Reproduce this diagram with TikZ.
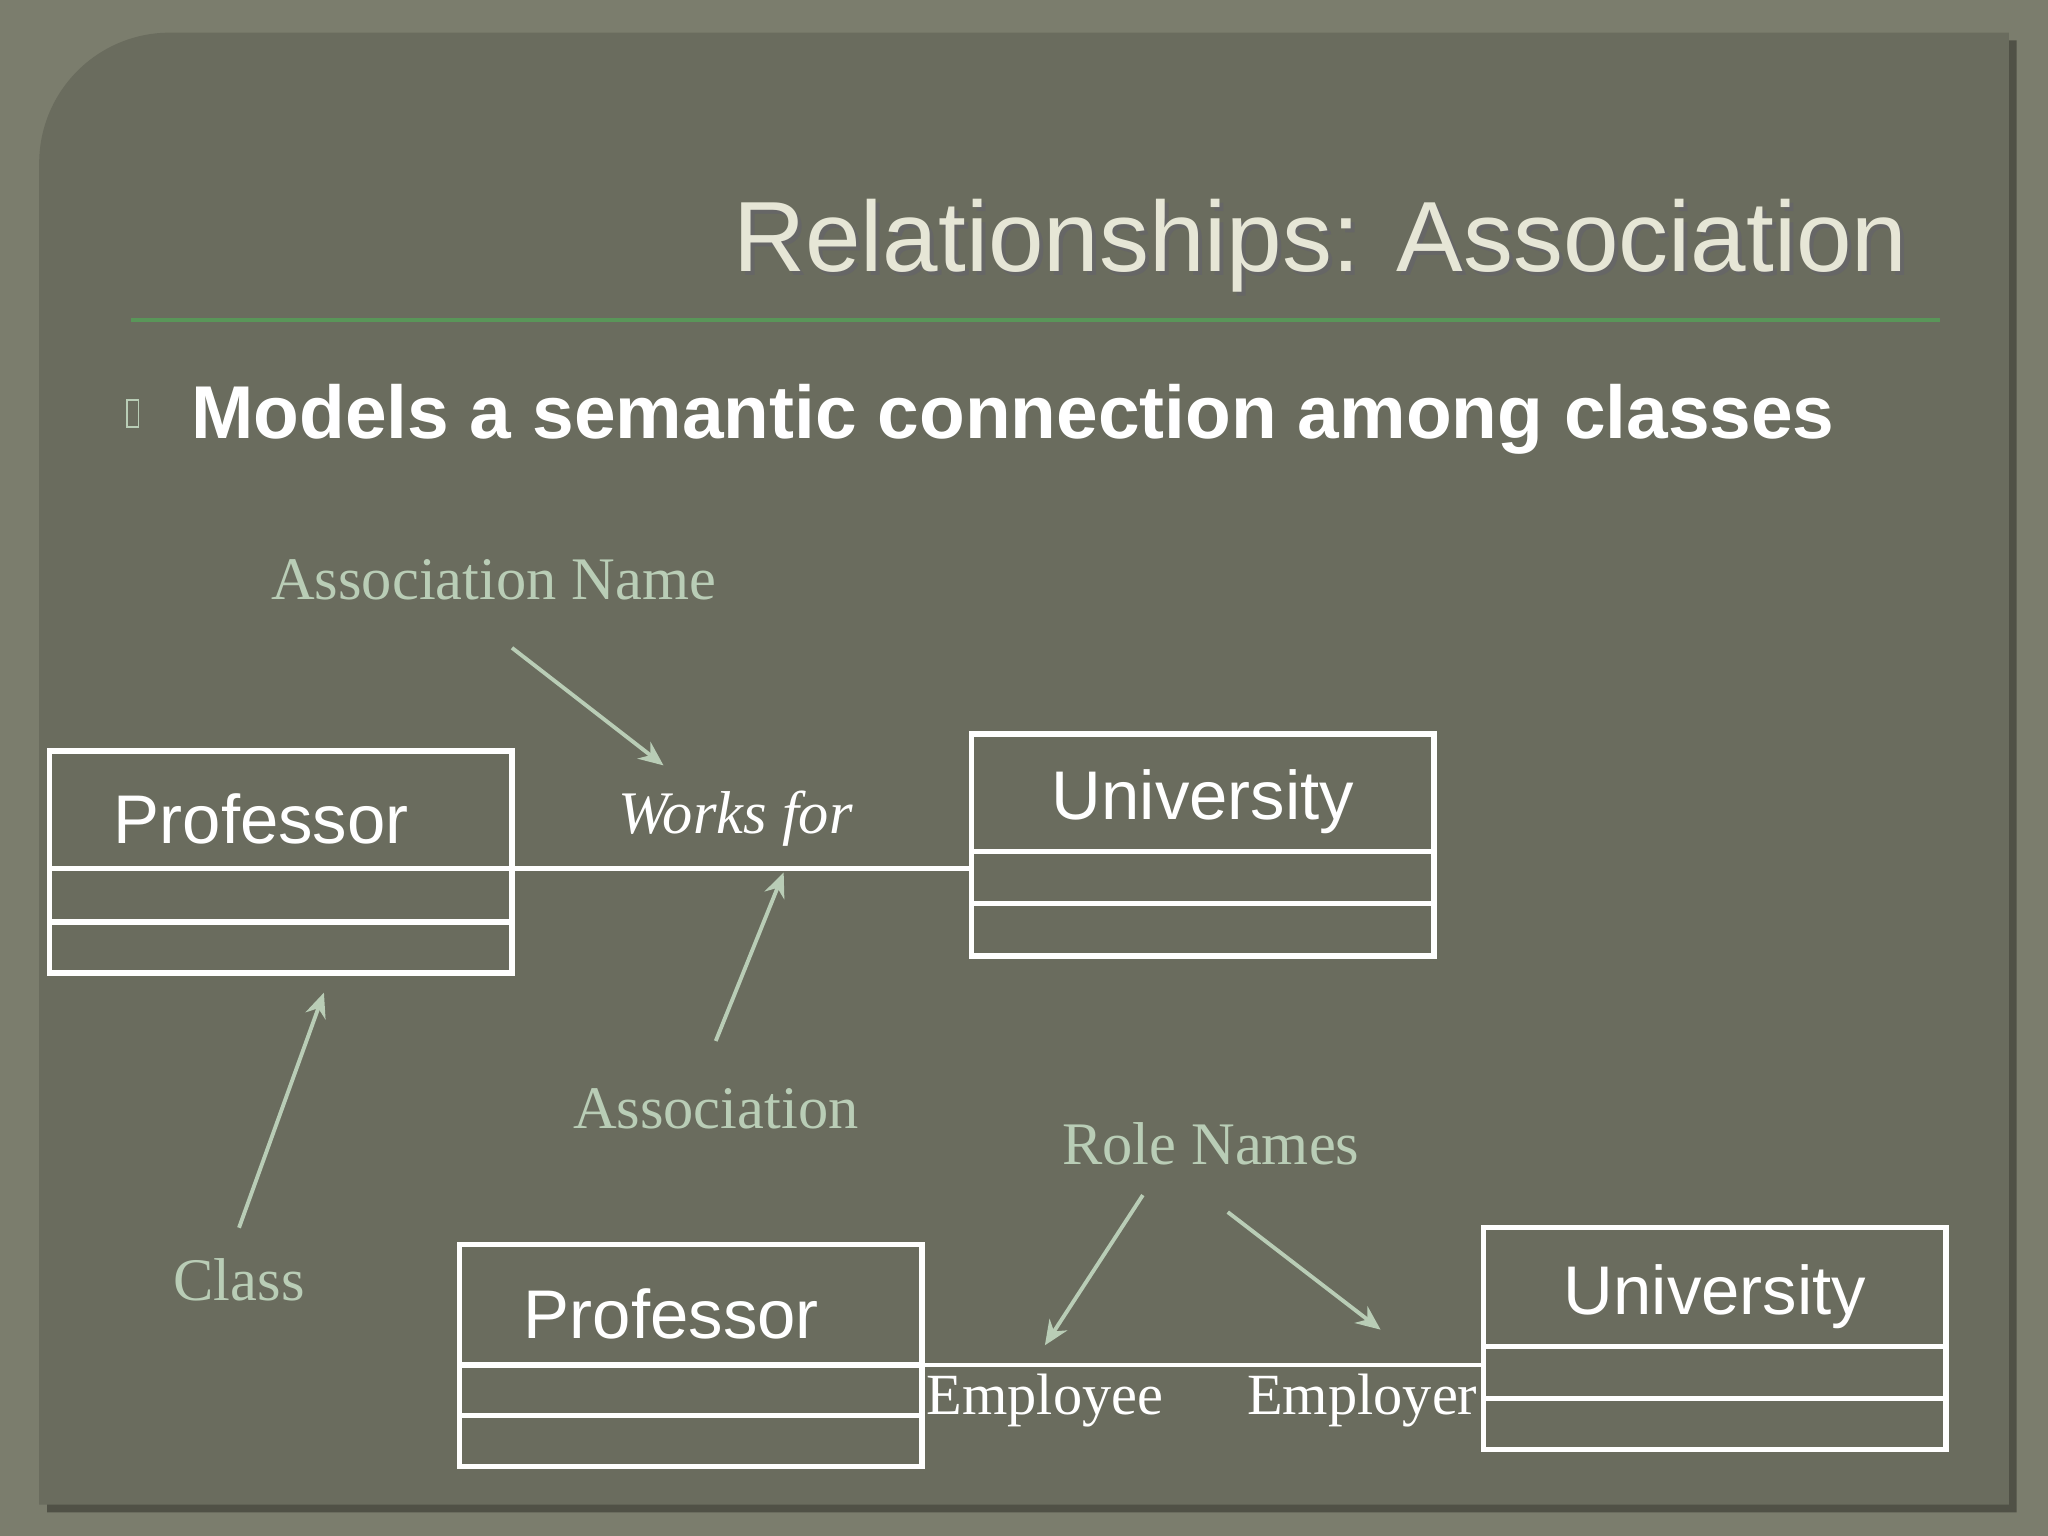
\documentclass[tikz,border=0pt]{standalone}
\usepackage{fontspec}
\setmainfont{Liberation Serif}
\newfontfamily\arialf{Liberation Sans}
\usetikzlibrary{arrows.meta}
\definecolor{bgout}{HTML}{7B7D6D}
\definecolor{panel}{HTML}{6A6C5E}
\definecolor{lbl}{HTML}{B9CDB6}
\definecolor{ttl}{HTML}{E6E6D6}
\tikzset{
 cls/.style={draw=white,line width=1.5pt},
 conn/.style={draw=white,line width=1.3pt},
 ptr/.style={draw=lbl,line width=1.1pt,-{Stealth[length=7pt,width=6pt]}},
 lab/.style={text=lbl,font=\fontsize{17.2}{19}\selectfont},
 cname/.style={text=white,font=\arialf\fontsize{19.6}{22}\selectfont},
 role/.style={text=white,font=\fontsize{16.6}{19}\selectfont},
}
\begin{document}
\begin{tikzpicture}[x=0.013061cm,y=-0.013061cm]
\fill[bgout] (0,0) rectangle (1568,1176);
\fill[black!25!panel] (36,131) arc[start angle=180,end angle=90,x radius=100,y radius=-100] -- (1544,31) -- (1544,1158) -- (36,1158) -- cycle;
\fill[panel] (30,125) arc[start angle=180,end angle=90,x radius=100,y radius=-100] -- (1538,25) -- (1538,1152) -- (30,1152) -- cycle;
\useasboundingbox (0,0) rectangle (1568,1176);
% title
\node[anchor=east,text=black!60,font=\arialf\fontsize{28.4}{32}\selectfont] at (1473,191) {Relationships: Association};
\node[anchor=east,text=ttl,font=\arialf\fontsize{28.4}{32}\selectfont] (title) at (1470,188) {Relationships: Association};
\draw[draw=black!20!green!30!gray,line width=1pt] (100,245) -- (1485,245);
\draw[draw=lbl,line width=0.5pt] (97,306) rectangle (106,327);
\node[anchor=west,text=white,font=\arialf\bfseries\fontsize{21.3}{24}\selectfont] (bullet) at (137,321) {Models a semantic connection among classes};
% diagram 1
\draw[cls] (38,575) rectangle (392,745); \draw[cls] (38,665) -- (392,665); \draw[cls] (38,706) -- (392,706);
\node[cname] (p1) at (200,627) {Professor};
\draw[cls] (744,562) rectangle (1098,732); \draw[cls] (744,652) -- (1098,652); \draw[cls] (744,692) -- (1098,692);
\node[cname] (u1) at (921,614) {University};
\coordinate (p1r) at (392,665); \coordinate (u1l) at (744,665);
\draw[conn] (p1r) -- (u1l);
\node[text=white,font=\itshape\fontsize{17.2}{20}\selectfont] (wf) at (563,627) {Works for};
\node[lab] (an) at (378,444) {Association Name};
\node[lab] (as) at (548,849) {Association};
\node[lab] (cl) at (183,980) {Class};
\node[lab] (rn) at (927,876) {Role Names};
\coordinate (a1s) at (392,496); \coordinate (a1e) at (508,586);
\coordinate (a2s) at (548,797); \coordinate (a2e) at (600,668);
\coordinate (a3s) at (183,940); \coordinate (a3e) at (248,760);
\coordinate (a4s) at (875,915); \coordinate (a4e) at (800,1030);
\coordinate (a5s) at (940,928); \coordinate (a5e) at (1057,1018);
\draw[ptr] (a1s) -- (a1e);
\draw[ptr] (a2s) -- (a2e);
\draw[ptr] (a3s) -- (a3e);
\draw[ptr] (a4s) -- (a4e);
\draw[ptr] (a5s) -- (a5e);
% diagram 2
\draw[cls] (352,953) rectangle (706,1123); \draw[cls] (352,1045) -- (706,1045); \draw[cls] (352,1084) -- (706,1084);
\node[cname] (p2) at (514,1006) {Professor};
\draw[cls] (1136,940) rectangle (1490,1110); \draw[cls] (1136,1031) -- (1490,1031); \draw[cls] (1136,1071) -- (1490,1071);
\node[cname] (u2) at (1313,993) {University};
\coordinate (p2r) at (706,1045); \coordinate (u2l) at (1136,1045);
\draw[conn] (p2r) -- (u2l);
\node[role] (emp) at (800,1072) {Employee};
\node[role] (empr) at (1043,1072) {Employer};
\end{tikzpicture}
\end{document}
